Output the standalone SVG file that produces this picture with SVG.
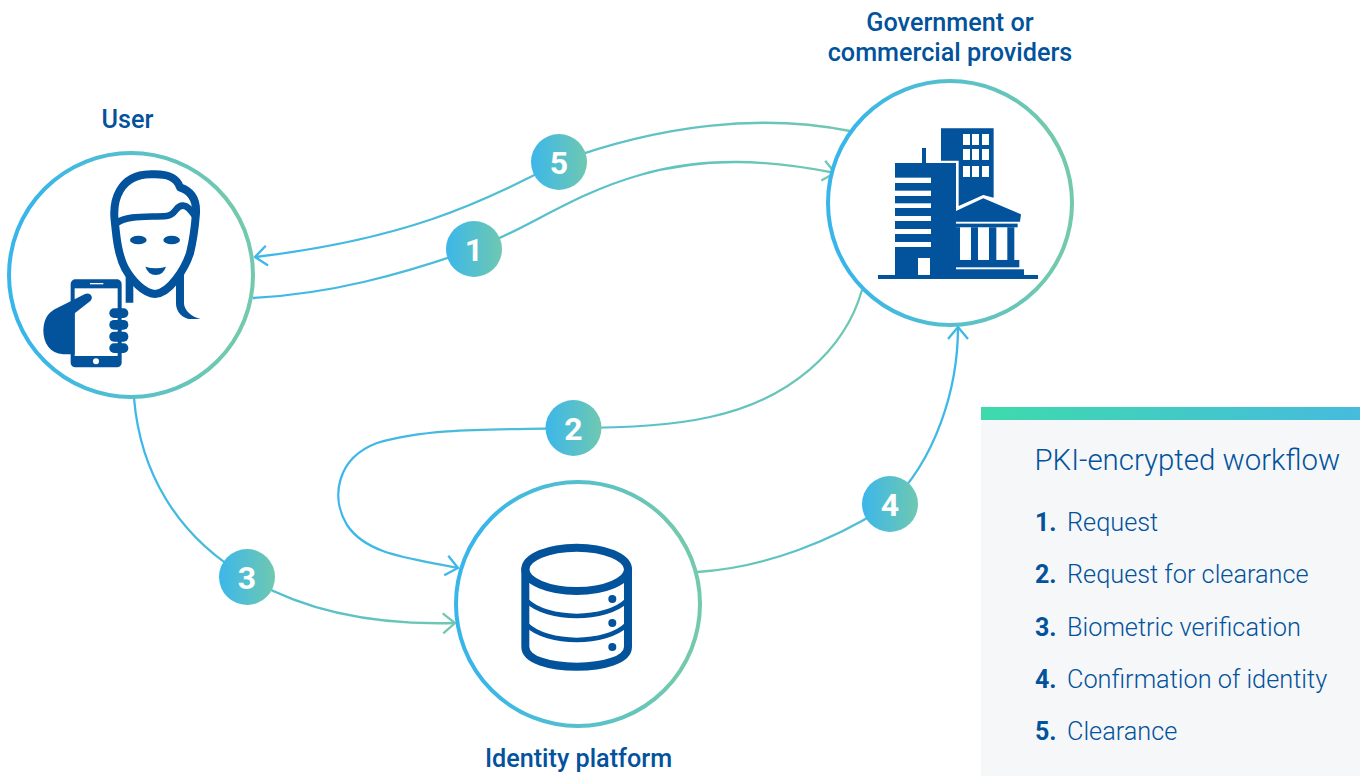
<svg xmlns="http://www.w3.org/2000/svg" width="1360" height="776" viewBox="0 0 1360 776">
<style>
text{font-family:Roboto,"Liberation Sans",sans-serif;fill:#02529c}
.lab{font-size:25.2px;font-weight:500;text-anchor:middle}
.ring{fill:#fff;stroke-width:4}
.con{fill:none;stroke-width:2.3}
.badge{fill:url(#bg)}
.num{font-size:32px;font-weight:700;fill:#fff;text-anchor:middle}
.ink{fill:#02529c}
.inkline{fill:none;stroke:#02529c;stroke-linejoin:round;stroke-linecap:round}
.w{fill:#fff}
.title{font-size:29.4px;font-weight:300}
.it{font-size:25.3px;font-weight:300}
.n{font-size:25px;font-weight:700}
</style>
<defs>
<linearGradient id="ringA" x1="0" y1="0.5" x2="1" y2="0.5"><stop offset="0.1" stop-color="#38b6ea"/><stop offset="0.9" stop-color="#72c9ae"/></linearGradient>
<linearGradient id="bg" x1="0" y1="0" x2="1" y2="0"><stop offset="0" stop-color="#3cb7ea"/><stop offset="1" stop-color="#6fc8b0"/></linearGradient>
<linearGradient id="bar" x1="0" y1="0" x2="1" y2="0"><stop offset="0" stop-color="#3edaac"/><stop offset="1" stop-color="#46bbde"/></linearGradient>
<linearGradient id="c1" gradientUnits="userSpaceOnUse" x1="253" y1="0" x2="835" y2="0"><stop offset="0" stop-color="#3cb7ea"/><stop offset="1" stop-color="#6fc8b0"/></linearGradient>
<linearGradient id="c5" gradientUnits="userSpaceOnUse" x1="255" y1="0" x2="850" y2="0"><stop offset="0" stop-color="#3cb7ea"/><stop offset="1" stop-color="#6fc8b0"/></linearGradient>
<linearGradient id="c2" gradientUnits="userSpaceOnUse" x1="338" y1="0" x2="862" y2="0"><stop offset="0" stop-color="#3cb7ea"/><stop offset="1" stop-color="#6fc8b0"/></linearGradient>
<linearGradient id="c3" gradientUnits="userSpaceOnUse" x1="134" y1="0" x2="455" y2="0"><stop offset="0" stop-color="#3cb7ea"/><stop offset="1" stop-color="#6fc8b0"/></linearGradient>
<linearGradient id="c4" gradientUnits="userSpaceOnUse" x1="697" y1="0" x2="958" y2="0"><stop offset="0" stop-color="#6fc8b0"/><stop offset="1" stop-color="#3cb7ea"/></linearGradient>
<marker id="ab" viewBox="-14 -11 16 22" refX="0" refY="0" markerWidth="16" markerHeight="22" markerUnits="userSpaceOnUse" orient="auto"><path d="M-12 -10L0 0L-12 10" fill="none" stroke="#3cb7ea" stroke-width="2.3"/></marker>
<marker id="ag" viewBox="-14 -11 16 22" refX="0" refY="0" markerWidth="16" markerHeight="22" markerUnits="userSpaceOnUse" orient="auto"><path d="M-12 -10L0 0L-12 10" fill="none" stroke="#6fc8b0" stroke-width="2.3"/></marker>
</defs>

<g id="connectors">
<path class="con" stroke="url(#c1)" marker-end="url(#ag)" d="M253 298C330 294 400 275 474 249C530 228 570 195 640 175C705 156 770 160 835 173"/>
<path class="con" stroke="url(#c5)" marker-end="url(#ab)" d="M850 131C760 113 660 125 559 162C480 205 400 240 255 257"/>
<path class="con" stroke="url(#c2)" marker-end="url(#ab)" d="M862 290C845 350 790 400 710 417C670 426 620 428 573 428C500 430 430 427 377 443C337 458 330 497 347 525C367 555 410 558 458 568"/>
<path class="con" stroke="url(#c3)" marker-end="url(#ag)" d="M134 398C140 470 175 535 247 577C310 615 385 625 455 623"/>
<path class="con" stroke="url(#c4)" marker-end="url(#ab)" d="M697 572C765 568 835 540 890 504C935 460 958 390 958 327"/>
</g>

<g id="user">
<circle class="ring" cx="131" cy="275" r="122" stroke="url(#ringA)"/>
<g transform="translate(0 140) scale(.3333)">
<path class="inkline" stroke-width="24" d="M345 250C335 180 360 105 450 103C500 100 530 110 540 142C580 155 590 185 588 220C585 260 580 300 570 340C555 385 510 460 465 462C430 460 395 420 375 385C355 345 350 300 345 250Z"/>
<path class="inkline" stroke-width="20" d="M352 248C380 225 450 232 500 228C530 225 525 195 550 197C565 198 575 215 585 228"/>
<ellipse class="ink" cx="415" cy="300" rx="25" ry="13"/>
<ellipse class="ink" cx="515" cy="300" rx="25" ry="13"/>
<path class="ink" d="M436 380Q467 390 498 380Q490 405 467 405Q445 405 436 380Z"/>
<path class="ink" d="M377 405L400 435V488H377ZM528 430L552 400V490C552 510 575 532 602 537H565C540 530 528 510 528 490Z"/>
<rect class="ink" x="212" y="418" width="153" height="264" rx="14"/>
<rect class="w" x="224" y="445" width="129" height="203"/>
<rect class="w" x="270" y="429" width="40" height="4"/>
<circle class="w" cx="288" cy="664" r="9"/>
<rect class="ink" x="328" y="505" width="57" height="29" rx="14"/>
<rect class="ink" x="328" y="540" width="57" height="29" rx="14"/>
<rect class="ink" x="328" y="575" width="57" height="30" rx="14"/>
<rect class="ink" x="328" y="610" width="57" height="29" rx="14"/>
<path class="ink" d="M224 643H190C150 640 130 610 130 570C132 530 150 515 170 505L255 462C270 455 282 470 272 482L224 520Z"/>
</g>
<text class="lab" x="127.500" y="128">User</text>
</g>

<g id="government">
<circle class="ring" cx="950" cy="203" r="122" stroke="url(#ringA)"/>
<g transform="translate(820 70) scale(.3333)">
<path class="ink" d="M363 175H521V383L490 375L416 408V272H363Z"/>
<path class="ink" d="M225 279H306V234H318V279H408V615H225Z"/>
<g class="w">
<rect x="225" y="323" width="108" height="16"/><rect x="225" y="362" width="108" height="16"/><rect x="225" y="400" width="108" height="14"/><rect x="225" y="438" width="108" height="15"/><rect x="225" y="477" width="108" height="15"/><rect x="225" y="516" width="108" height="15"/>
<rect x="294" y="564" width="36" height="51"/>
<rect x="429" y="192" width="21" height="33"/><rect x="456" y="192" width="21" height="33"/><rect x="486" y="192" width="21" height="33"/>
<rect x="429" y="237" width="21" height="33"/><rect x="456" y="237" width="21" height="33"/><rect x="486" y="237" width="21" height="33"/>
<rect x="429" y="288" width="21" height="33"/><rect x="456" y="288" width="21" height="33"/><rect x="486" y="288" width="21" height="33"/>
<path d="M408 414L490 376L521 390L606 430V460H408Z"/>
</g>
<path class="ink" d="M408 423L490 385L603 433L600 455H408Z"/>
<rect class="ink" x="408" y="461" width="185" height="11"/>
<path class="ink" d="M408 472H583V570H408Z"/>
<rect class="w" x="420" y="472" width="33" height="98"/><rect class="w" x="474" y="472" width="33" height="98"/><rect class="w" x="529" y="472" width="33" height="98"/>
<rect class="ink" x="408" y="570" width="190" height="22"/>
<rect class="ink" x="408" y="598" width="204" height="18"/>
<rect class="ink" x="174" y="615" width="480" height="12"/>
</g>
<text class="lab" x="950" y="31">Government or</text>
<text class="lab" x="950" y="61">commercial providers</text>
</g>

<g id="identity">
<circle class="ring" cx="578" cy="604" r="122" stroke="url(#ringA)"/>
<g transform="translate(450 480) scale(.3333)">
<ellipse class="inkline" stroke-width="24" cx="380" cy="268" rx="154" ry="65"/>
<path class="inkline" stroke-width="24" d="M226 268V500C226 540 300 560 380 560C460 560 534 540 534 500V268"/>
<path class="inkline" stroke-width="14" d="M230 362C260 392 320 408 380 408C440 408 500 392 530 362"/>
<path class="inkline" stroke-width="14" d="M230 434C260 464 320 480 380 480C440 480 500 464 530 434"/>
<circle class="ink" cx="487" cy="357" r="12"/><circle class="ink" cx="487" cy="429" r="12"/><circle class="ink" cx="487" cy="501" r="12"/>
</g>
<text class="lab" x="578.500" y="767">Identity platform</text>
</g>

<g id="badge-1"><circle class="badge" cx="474" cy="249" r="28"/><text class="num" x="474" y="261">1</text></g>
<g id="badge-2"><circle class="badge" cx="573.500" cy="428" r="28"/><text class="num" x="573.500" y="440">2</text></g>
<g id="badge-3"><circle class="badge" cx="247" cy="577" r="28"/><text class="num" x="247" y="589">3</text></g>
<g id="badge-4"><circle class="badge" cx="890" cy="504" r="28"/><text class="num" x="890" y="516">4</text></g>
<g id="badge-5"><circle class="badge" cx="559" cy="162" r="28"/><text class="num" x="559" y="174">5</text></g>

<g id="legend">
<rect x="981" y="420" width="379" height="356" fill="#f6f7f9"/>
<rect x="981" y="407" width="379" height="13" fill="url(#bar)"/>
<text class="title" x="1034.500" y="470">PKI-encrypted workflow</text>
<text class="n" x="1035" y="531">1.</text><text class="it" x="1067" y="531">Request</text>
<text class="n" x="1035" y="583">2.</text><text class="it" x="1067" y="583">Request for clearance</text>
<text class="n" x="1035" y="636">3.</text><text class="it" x="1067" y="636">Biometric verification</text>
<text class="n" x="1035" y="688">4.</text><text class="it" x="1067" y="688">Confirmation of identity</text>
<text class="n" x="1035" y="740">5.</text><text class="it" x="1067" y="740">Clearance</text>
</g>
</svg>
